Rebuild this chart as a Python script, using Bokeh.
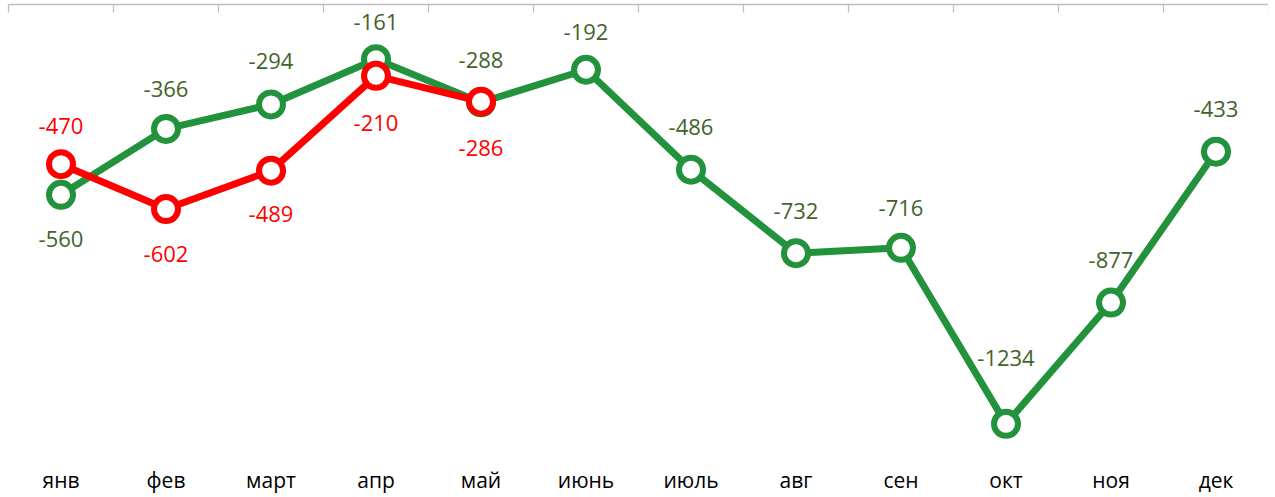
from bokeh.plotting import figure
from bokeh.models import Range1d, LinearAxis, FixedTicker, ColumnDataSource, CustomLabelingPolicy
from bokeh.embed import file_html
from bokeh.resources import INLINE
from bokeh.core.properties import value

months = ["янв", "фев", "март", "апр", "май", "июнь", "июль", "авг", "сен", "окт", "ноя", "дек"]
green_values = [-560, -366, -294, -161, -288, -192, -486, -732, -716, -1234, -877, -433]
red_values = [-470, -602, -489, -210, -286]

# label placement (pixel offsets from point, style only)
green_label_offsets = [44, -40, -43, -37, -42, -38, -43, -42, -40, -66, -43, -43]
red_label_offsets = [-38, 45, 43, 47, 46]

GREEN = "#22923c"
GREEN_TEXT = "#43632a"
RED = "#ff0000"
FONT = "Open Sans"

xs = [i + 0.5 for i in range(len(months))]

green_src = ColumnDataSource(dict(
    x=xs, y=green_values, label=[str(v) for v in green_values], off=green_label_offsets))
red_src = ColumnDataSource(dict(
    x=xs[:len(red_values)], y=red_values, label=[str(v) for v in red_values], off=red_label_offsets))

p = figure(width=1268, height=496,
           x_range=Range1d(0, len(months)), y_range=Range1d(-1333, 0),
           output_backend="svg", toolbar_location=None,
           x_axis_location=None, y_axis_location=None,
           min_border_left=8, min_border_right=0, min_border_top=4, min_border_bottom=0)
p.outline_line_color = None
p.xgrid.visible = False
p.ygrid.visible = False
p.background_fill_color = "white"

# top axis line (value 0) with tick marks between categories, no labels
top = LinearAxis(ticker=FixedTicker(ticks=list(range(len(months) + 1))))
top.major_label_policy = CustomLabelingPolicy(code="""
    for (const i of indices) { indices.unset(i) }
    return indices
""")
top.major_label_text_font_size = "0px"
top.major_label_standoff = 0
top.major_tick_in = 8
top.major_tick_out = 0
top.minor_tick_line_color = None
top.axis_line_color = "#bfbfbf"
top.major_tick_line_color = "#bfbfbf"
top.axis_line_width = 1.3
top.major_tick_line_width = 1.3
p.add_layout(top, "above")

# bottom category labels
bottom = LinearAxis(ticker=FixedTicker(ticks=xs))
bottom.major_label_overrides = {x: m for x, m in zip(xs, months)}
bottom.axis_line_color = None
bottom.major_tick_line_color = None
bottom.minor_tick_line_color = None
bottom.major_tick_in = 0
bottom.major_tick_out = 0
bottom.major_label_standoff = 8
bottom.major_label_text_font = FONT
bottom.major_label_text_font_size = "21px"
bottom.major_label_text_color = "#000000"
p.add_layout(bottom, "below")

# green series
p.line("x", "y", source=green_src, line_color=GREEN, line_width=7, line_join="round")
p.scatter("x", "y", source=green_src, marker="circle", size=24,
          fill_color="white", line_color=GREEN, line_width=6)

# red series
p.line("x", "y", source=red_src, line_color=RED, line_width=7, line_join="round")
p.scatter("x", "y", source=red_src, marker="circle", size=24,
          fill_color="white", line_color=RED, line_width=6)

# data labels
p.text("x", "y", text="label", source=green_src, y_offset="off",
       text_align="center", text_baseline="middle",
       text_font=value(FONT), text_font_size="22px", text_color=GREEN_TEXT)
p.text("x", "y", text="label", source=red_src, y_offset="off",
       text_align="center", text_baseline="middle",
       text_font=value(FONT), text_font_size="22px", text_color=RED)

open("out.html", "w").write(file_html(p, INLINE))
